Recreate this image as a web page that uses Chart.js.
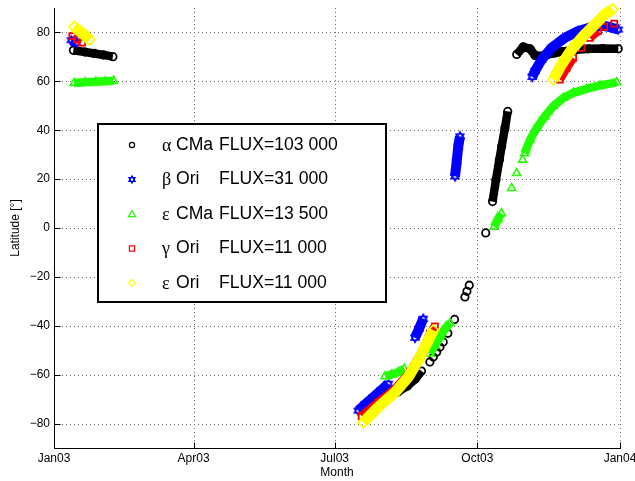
<!DOCTYPE html>
<html><head><meta charset="utf-8">
<script src="https://cdn.jsdelivr.net/npm/chart.js@4.4.1/dist/chart.umd.min.js"></script>
<style>html,body{margin:0;padding:0;background:#fff}canvas{display:block}</style>
</head><body>
<canvas id="c" width="635" height="481" style="width:635px;height:481px"></canvas>
<script>
// ---- axis ticks ----
const monthLabels = ['Jan03','Apr03','Jul03','Oct03','Jan04'];
const monthDays   = [0, 90, 181, 273, 365];          // day of year 2003
const latTicks    = [-80,-60,-40,-20,0,20,40,60,80];

// ---- legend text ----
const greekNames = ['\u03B1','\u03B2','\u03B5','\u03B3','\u03B5'];
const starNames  = ['CMa','Ori','CMa','Ori','Ori'];
const fluxes     = ['103 000','31 000','13 500','11 000','11 000'];

// ---- series (day of 2003, latitude); null = gap ----
const alphaDay = [12.5,20,26,32,38,null,
  205,210,216,222,228,233,237,null,
  242.4,null,244.6,null,246.8,null,248.9,null,251,null,254,null,258.3,null,
  265,null,266.3,null,267.8,null,
  278.4,null,
  282.8,285,287.2,288.7,290.8,292.6,null,
  298.4,302.6,307,310.2,312.3,318,323.1,328,333.8,344.6,354,363.9];
const alphaLat = [72.7,72.0,71.4,70.8,70.1,null,
  -72.3,-70.7,-69.0,-67.0,-64.6,-61.8,-58.5,null,
  -54.8,null,-52.8,null,-50.7,null,-48.7,null,-46.6,null,-43.1,null,-37.4,null,
  -28.2,null,-25.9,null,-23.4,null,
  -2.0,null,
  10.8,19.7,27.9,33.4,40.9,47.7,null,
  71.0,74.1,73.3,70.6,70.3,70.9,71.6,72.2,72.7,73.3,73.4,73.3];

const betaDay = [11.2,14.5,null,
  196.2,200.5,205.9,211.3,215.6,null,
  232.8,235.4,238.1,null,
  258.6,259.7,260.7,261.8,null,
  308.4,310.2,314.5,320.9,329.5,338.1,346.7,355.3,363.9];
const betaLat = [76.8,75.8,null,
  -74.7,-72.2,-69.2,-66.2,-63.7,null,
  -44.9,-41.2,-37.1,null,
  21.1,27.2,33.4,37.5,null,
  61.8,64.2,68.9,73.7,77.8,80.6,82.2,82.7,81.2];

const epsCMaDay = [13,20,27,33,38.5,null,
  213.4,217.8,222,225.9,null,
  242.5,245.7,248.9,252.1,255.4,null,
  283.8,286.3,288.5,null,
  295.1,null,298.3,null,302.2,null,
  303.5,307,311.3,316.6,322,328.4,334.9,343.5,352.1,362.9];
const epsCMaLat = [59.3,59.6,59.8,60.0,60.2,null,
  -60.7,-59.9,-59.0,-57.6,null,
  -51.4,-48.0,-44.6,-41.2,-38.8,null,
  0.5,3.6,6.0,null,
  16.3,null,22.4,null,27.9,null,
  30.5,36.1,40.9,45.7,49.8,53.2,55.3,56.9,58.3,59.6];

const gammaDay = [11.8,null,15,null,18.1,null,
  198.4,209.1,219.9,229.5,237.1,242.4,245.6,null,
  326.2,330.6,334.8,null,340.2,null,345.6,351,null,354.8,null,361.3];
const gammaLat = [78.5,null,77.2,null,75.8,null,
  -77.0,-71.3,-65.8,-59.0,-50.8,-43.2,-40.2,null,
  60.7,65.5,69.6,null,73.7,null,77.8,80.6,null,82.3,null,83.6];

const epsOriDay = [13,16,19,23,null,
  199.4,209.1,219.9,228.4,234.9,240.3,244.6,null,
  321.9,327.3,333.8,341.3,348.8,355.3,360.2];
const epsOriLat = [82.3,80.8,79.3,77.0,null,
  -79.5,-73.3,-67.2,-61.0,-54.2,-47.3,-41.8,null,
  60.7,66.9,73.0,78.5,83.3,87.4,89.5];

// ---- styling ----
const colors = ['#000000','#0000ff','#22ff00','#ff0000','#ffff00'];
const FONT = '"Liberation Sans", Arial, Helvetica, sans-serif';

function hexPath(ctx, cx, cy, r) {
  for (const off of [-Math.PI/2, Math.PI/2]) {
    ctx.beginPath();
    for (let k = 0; k < 3; k++) {
      const a = off + k * 2 * Math.PI / 3;
      const px = cx + r * Math.cos(a), py = cy + r * Math.sin(a);
      k ? ctx.lineTo(px, py) : ctx.moveTo(px, py);
    }
    ctx.closePath();
    ctx.stroke();
  }
}
function hexImage(r, color, lw) {
  const s = Math.ceil(2 * r + 4);
  const cv = document.createElement('canvas');
  cv.width = s; cv.height = s;
  const c = cv.getContext('2d');
  c.strokeStyle = color; c.lineWidth = lw;
  hexPath(c, s / 2, s / 2, r);
  return cv;
}

function pts(days, lats) {
  return days.map((d, i) => ({x: d, y: lats[i]}));
}

function ds(label, days, lats, color, style, radius, bw, lineW, order) {
  return {
    label, data: pts(days, lats),
    showLine: true, spanGaps: false,
    borderColor: color, backgroundColor: 'rgba(0,0,0,0)',
    borderWidth: lineW, borderCapStyle: 'butt', borderJoinStyle: 'round',
    pointStyle: style, pointRadius: radius, pointBorderWidth: bw,
    pointBorderColor: color, pointBackgroundColor: 'rgba(0,0,0,0)',
    tension: 0, clip: false, order
  };
}

const axesPlugin = {
  id: 'matlabAxes',
  beforeDatasetsDraw(chart) {
    const {ctx, chartArea: a, scales: {x, y}} = chart;
    ctx.save();
    ctx.lineWidth = 1;
    ctx.strokeStyle = '#6a6a6a';
    ctx.setLineDash([1, 3]);
    x.ticks.forEach(t => {
      const px = Math.round(x.getPixelForValue(t.value)) + 0.5;
      ctx.beginPath(); ctx.moveTo(px, a.top); ctx.lineTo(px, a.bottom); ctx.stroke();
    });
    y.ticks.forEach(t => {
      const py = Math.round(y.getPixelForValue(t.value)) + 0.5;
      ctx.beginPath(); ctx.moveTo(a.left, py); ctx.lineTo(a.right, py); ctx.stroke();
    });
    ctx.setLineDash([]);
    ctx.strokeStyle = '#000';
    const L = Math.round(a.left) + 0.5, B = Math.round(a.bottom) + 0.5;
    ctx.beginPath(); ctx.moveTo(L, a.top); ctx.lineTo(L, B); ctx.lineTo(a.right + 1, B); ctx.stroke();
    x.ticks.forEach(t => {
      const px = Math.round(x.getPixelForValue(t.value)) + 0.5;
      ctx.beginPath(); ctx.moveTo(px, B); ctx.lineTo(px, B - 6); ctx.stroke();
    });
    y.ticks.forEach(t => {
      const py = Math.round(y.getPixelForValue(t.value)) + 0.5;
      ctx.beginPath(); ctx.moveTo(L, py); ctx.lineTo(L + 6, py); ctx.stroke();
    });
    ctx.restore();
  }
};

function legendMarker(ctx, i, x, y) {
  ctx.save();
  ctx.strokeStyle = colors[i]; ctx.lineWidth = 1.2;
  ctx.beginPath();
  if (i === 0) { ctx.arc(x, y, 2.6, 0, 2 * Math.PI); ctx.stroke(); }
  else if (i === 1) { hexPath(ctx, x, y, 3.6); }
  else if (i === 2) { ctx.moveTo(x, y - 3.5); ctx.lineTo(x + 3.6, y + 2.6); ctx.lineTo(x - 3.6, y + 2.6); ctx.closePath(); ctx.stroke(); }
  else if (i === 3) { ctx.rect(x - 2.6, y - 2.6, 5.2, 5.2); ctx.stroke(); }
  else { ctx.moveTo(x, y - 3.6); ctx.lineTo(x + 3.2, y); ctx.lineTo(x, y + 3.6); ctx.lineTo(x - 3.2, y); ctx.closePath(); ctx.stroke(); }
  ctx.restore();
}

const legendPlugin = {
  id: 'boxLegend',
  afterDatasetsDraw(chart) {
    const ctx = chart.ctx;
    ctx.save();
    ctx.fillStyle = '#fff';
    ctx.fillRect(98, 124, 288, 178);
    ctx.lineWidth = 2; ctx.strokeStyle = '#000';
    ctx.strokeRect(98, 124, 288, 178);
    ctx.textBaseline = 'middle';
    greekNames.forEach((g, i) => {
      const yc = 145 + i * 34.5;
      legendMarker(ctx, i, 132, yc);
      ctx.fillStyle = '#000';
      ctx.font = '18px "Liberation Serif", "DejaVu Serif", serif';
      ctx.fillText(g, 162, yc + 1);
      ctx.font = '17.6px ' + FONT;
      ctx.fillText(starNames[i], 176, yc);
      ctx.fillText('FLUX=' + fluxes[i], 219, yc);
    });
    ctx.restore();
  }
};

const tickFont = {family: FONT, size: 12};

new Chart(document.getElementById('c'), {
  type: 'scatter',
  data: {
    datasets: [
      ds('\u03B1 CMa', alphaDay, alphaLat, colors[0], 'circle', 3.7, 1.8, 8.5, 5),
      ds('\u03B2 Ori', betaDay, betaLat, colors[1], hexImage(4.6, colors[1], 1.4), 4, 1.4, 10, 4),
      ds('\u03B5 CMa', epsCMaDay, epsCMaLat, colors[2], 'triangle', 4.6, 1.6, 8.5, 3),
      ds('\u03B3 Ori', gammaDay, gammaLat, colors[3], 'rect', 4.2, 1.8, 8.5, 2),
      ds('\u03B5 Ori', epsOriDay, epsOriLat, colors[4], 'rectRot', 5.2, 1.8, 11, 1)
    ]
  },
  options: {
    responsive: false, animation: false, events: [],
    layout: {autoPadding: false, padding: {top: 8, right: 15, left: 0, bottom: 0}},
    plugins: {legend: {display: false}, tooltip: {enabled: false}},
    scales: {
      x: {
        type: 'linear', min: 0, max: 365,
        afterBuildTicks: s => { s.ticks = monthDays.map(v => ({value: v})); },
        afterFit: s => { s.height = 33; s.paddingLeft = 0; s.paddingRight = 0; },
        ticks: {
          callback: v => monthLabels[monthDays.indexOf(v)],
          font: tickFont, color: '#000', padding: 3, maxRotation: 0, autoSkip: false
        },
        grid: {display: false, drawTicks: false},
        border: {display: false},
        title: {display: true, text: 'Month', font: tickFont, color: '#000', padding: {top: 0, bottom: 1}}
      },
      y: {
        type: 'linear', min: -90, max: 90,
        afterBuildTicks: s => { s.ticks = latTicks.map(v => ({value: v})); },
        afterFit: s => { s.width = 54; s.paddingTop = 0; s.paddingBottom = 0; },
        ticks: {
          callback: v => (v < 0 ? '\u2212' + Math.abs(v) : String(v)),
          font: tickFont, color: '#000', padding: 4, autoSkip: false
        },
        grid: {display: false, drawTicks: false},
        border: {display: false},
        title: {display: true, text: 'Latitude [\u00B0]', font: tickFont, color: '#000', padding: {top: 8, bottom: 0}}
      }
    }
  },
  plugins: [axesPlugin, legendPlugin]
});
</script>
</body></html>
